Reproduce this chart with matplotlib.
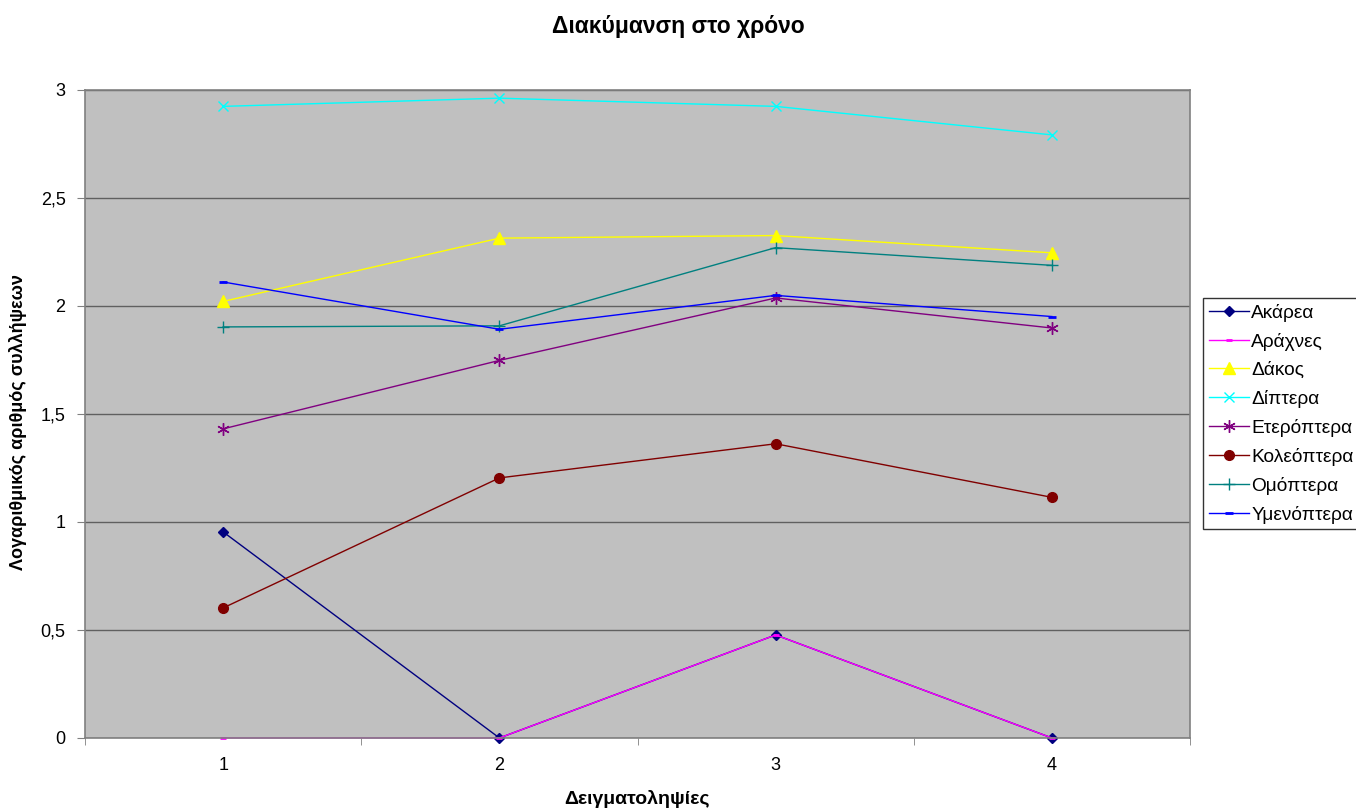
import matplotlib.pyplot as plt
from matplotlib.ticker import FuncFormatter

# Δειγματοληψίες και λογάριθμος αριθμού συλλήψεων ανά ομάδα
deigmata = [1, 2, 3, 4]
akarea = [0.954, 0.0, 0.477, 0.0]
arachnes = [0.0, 0.0, 0.477, 0.0]
dakos = [2.021, 2.314, 2.326, 2.246]
diptera = [2.924, 2.962, 2.924, 2.792]
eteroptera = [1.431, 1.748, 2.037, 1.898]
koleoptera = [0.602, 1.204, 1.362, 1.114]
omoptera = [1.903, 1.908, 2.270, 2.188]
ymenoptera = [2.111, 1.892, 2.049, 1.951]

seires = [
    ("Ακάρεα", akarea, "#000080", "D", 5),
    ("Αράχνες", arachnes, "#FF00FF", "_", 5),
    ("Δάκος", dakos, "#FFFF00", "^", 8),
    ("Δίπτερα", diptera, "#00FFFF", "x", 7),
    ("Ετερόπτερα", eteroptera, "#800080", (6, 2, 0), 9),
    ("Κολεόπτερα", koleoptera, "#800000", "o", 7),
    ("Ομόπτερα", omoptera, "#008080", "+", 9),
    ("Υμενόπτερα", ymenoptera, "#0000FF", "_", 6),
]

plt.rcParams['font.family'] = ['Liberation Sans', 'DejaVu Sans']

fig = plt.figure(figsize=(13.56, 8.09), dpi=100)
ax = fig.add_axes([0.0627, 0.0878, 0.8149, 0.801])
ax.set_facecolor("#C0C0C0")

for onoma, times, xroma, marker, ms in seires:
    mew = 2 if marker == "_" else 1
    ax.plot(deigmata, times, color=xroma, marker=marker, markersize=ms,
            markeredgewidth=mew, linewidth=1, label=onoma, clip_on=False)

ax.set_xlim(0.5, 4.5)
ax.set_ylim(0, 3)
ax.set_xticks(deigmata)
ax.set_xticks([0.5, 1.5, 2.5, 3.5, 4.5], minor=True)
ax.tick_params(axis="x", which="major", length=0, pad=14, labelsize=13)
ax.tick_params(axis="x", which="minor", length=5, color="#808080")
ax.set_yticks([0, 0.5, 1, 1.5, 2, 2.5, 3])
ax.yaxis.set_major_formatter(FuncFormatter(lambda v, p: f"{v:g}".replace(".", ",")))
ax.tick_params(axis="y", length=6, color="#808080", labelsize=13, pad=8)
ax.yaxis.grid(True, color="#606060", linewidth=1)
ax.set_axisbelow(True)
for s in ax.spines.values():
    s.set_color("#808080")
    s.set_linewidth(1.2)

# τίτλος και τίτλοι αξόνων
fig.text(0.5, 1 - 27 / 809, "Διακύμανση στο χρόνο", fontsize=16.5,
         fontweight="bold", ha="center", va="center")
fig.text(637 / 1356, 1 - 799 / 809, "Δειγματοληψίες", fontsize=14,
         fontweight="bold", ha="center", va="center")
fig.text(18 / 1356, 1 - 422 / 809, "Λογαριθμικός αριθμός συλλήψεων", fontsize=13,
         fontweight="bold", ha="center", va="center", rotation=90)

leg = fig.legend(loc="upper left", bbox_to_anchor=(1203 / 1356, 1 - 298 / 809),
                 frameon=True, fancybox=False, edgecolor="black", fontsize=13.8,
                 handlelength=2.1, handletextpad=0.12, borderpad=0.3,
                 labelspacing=0.57, borderaxespad=0)
leg.get_frame().set_linewidth(1)

fig.savefig("out.png", dpi=100, facecolor="white")
